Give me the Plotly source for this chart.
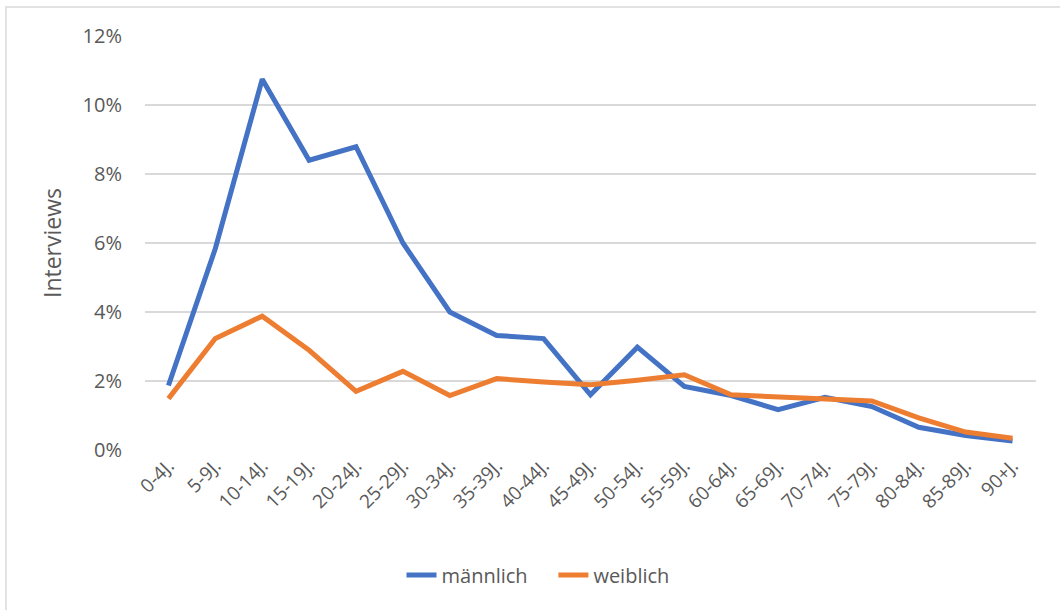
import plotly.graph_objects as go

categories = ["0-4J.", "5-9J.", "10-14J.", "15-19J.", "20-24J.", "25-29J.", "30-34J.",
              "35-39J.", "40-44J.", "45-49J.", "50-54J.", "55-59J.", "60-64J.", "65-69J.",
              "70-74J.", "75-79J.", "80-84J.", "85-89J.", "90+J."]
maennlich = [1.87, 5.84, 10.75, 8.40, 8.79, 6.00, 4.00, 3.32, 3.23, 1.60, 2.98, 1.84,
             1.58, 1.17, 1.53, 1.26, 0.66, 0.42, 0.26]
weiblich = [1.49, 3.23, 3.88, 2.89, 1.70, 2.28, 1.58, 2.07, 1.97, 1.89, 2.02, 2.18,
            1.60, 1.53, 1.49, 1.42, 0.93, 0.52, 0.34]
y_ticks = [0, 2, 4, 6, 8, 10, 12]
y_ticklabels = [f"{v}%" for v in y_ticks]

font_family = "'Open Sans', Lato, sans-serif"
gray = "#595959"

fig = go.Figure()
fig.add_trace(go.Scatter(x=categories, y=maennlich, mode="lines", name="männlich\u00a0\u00a0\u00a0\u00a0",
                         line=dict(color="#4472C4", width=5)))
fig.add_trace(go.Scatter(x=categories, y=weiblich, mode="lines", name="weiblich",
                         line=dict(color="#ED7D31", width=5)))

L, R, T, B = 145, 24, 36, 160
W, H = 1060, 610
pw, ph = W - L - R, H - T - B

def px_x(px):
    return (px - L) / pw

def px_y(py):
    return (H - B - py) / ph

fig.update_layout(
    width=W, height=H,
    margin=dict(l=L, r=R, t=T, b=B, autoexpand=False),
    paper_bgcolor="white", plot_bgcolor="white",
    font=dict(family=font_family, color=gray, size=16),
    showlegend=True,
    legend=dict(orientation="h", x=px_x(538), xanchor="center", y=px_y(575), yanchor="middle",
                font=dict(size=20, color=gray), itemwidth=30, tracegroupgap=0),
    xaxis=dict(type="category", range=[-0.5, 18.5], tickangle=-45, showgrid=False,
               showline=False, zeroline=False, ticks="", tickfont=dict(size=19, color=gray)),
    yaxis=dict(range=[0, 12], tickvals=y_ticks, ticktext=y_ticklabels, showgrid=True,
               gridcolor="#d9d9d9", gridwidth=1.5, zeroline=False, showline=False,
               ticks="", ticklabelstandoff=22, tickfont=dict(size=20, color=gray),
               title=dict(text="Interviews", font=dict(size=23, color=gray), standoff=14)),
    shapes=[dict(type="rect", xref="paper", yref="paper",
                 x0=px_x(6), x1=px_x(1080), y0=px_y(640), y1=px_y(7),
                 line=dict(color="#d9d9d9", width=1.5), fillcolor="rgba(0,0,0,0)", layer="below")],
)

fig.write_html("out.html", config={"displayModeBar": False},
               post_script="document.body.style.margin='0';document.body.style.overflow='hidden';")
